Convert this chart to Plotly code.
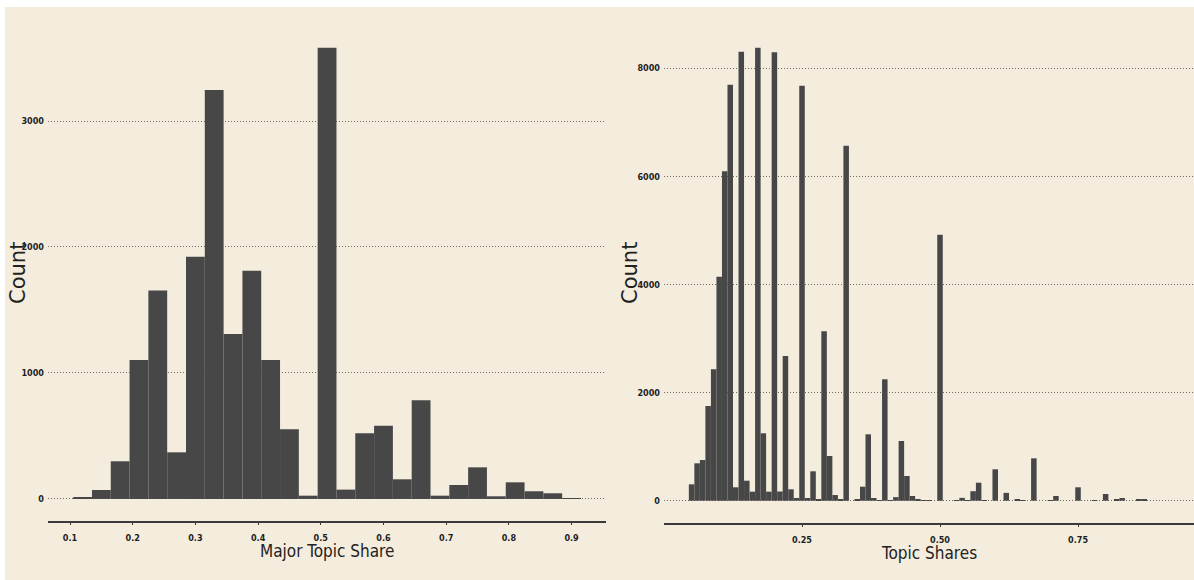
import plotly.graph_objects as go
import numpy as np

W, H = 1194, 580

# ---------------- data ----------------
# Left histogram: Major Topic Share, bin width 0.03, first bin centred at 0.12
major_bin_start = 0.12
major_bin_width = 0.03
major_counts = [13, 71, 299, 1103, 1655, 370, 1923, 3246, 1310, 1812, 1103, 553,
                26, 3582, 74, 521, 582, 156, 783, 26, 111, 251, 21, 132, 61, 45, 5]

# Right histogram: Topic Shares, bin width 0.01, first bin centred at 0.05
topic_bin_start = 0.05
topic_bin_width = 0.01
topic_counts = [303, 692, 753, 1752, 2431, 4144, 6094, 7696, 248, 8306,
                370, 167, 8380, 1247, 167, 8295, 170, 2677, 211, 50,
                7678, 50, 544, 30, 3134, 827, 105, 20, 6568, 0,
                20, 259, 1228, 50, 10, 2246, 10, 66, 1104, 457,
                87, 31, 13, 13, 0, 4920, 0, 0, 13, 53,
                5, 176, 333, 13, 0, 581, 0, 145, 0, 15,
                10, 0, 784, 0, 0, 10, 87, 0, 0, 0,
                248, 0, 0, 13, 0, 124, 0, 20, 50, 0,
                0, 15, 15]

left_xticks = [0.1, 0.2, 0.3, 0.4, 0.5, 0.6, 0.7, 0.8, 0.9]
left_xticklabels = ["0.1", "0.2", "0.3", "0.4", "0.5", "0.6", "0.7", "0.8", "0.9"]
left_yticks = [0, 1000, 2000, 3000]
right_xticks = [0.25, 0.50, 0.75]
right_xticklabels = ["0.25", "0.50", "0.75"]
right_yticks = [0, 2000, 4000, 6000, 8000]

left_xtitle = "Major Topic Share"
right_xtitle = "Topic Shares"
ytitle = "Count"

# ---------------- styling ----------------
BG = "#F4EDDE"
BAR = "#474747"
GRID = "#6f6a60"
AXIS = "#3a3a3a"
TICKFONT = dict(family="DejaVu Sans Condensed, DejaVu Sans, sans-serif", size=9, color="#1e1e1e", weight="bold")

major_x = np.round(major_bin_start + major_bin_width * np.arange(len(major_counts)), 4)
topic_x = np.round(topic_bin_start + topic_bin_width * np.arange(len(topic_counts)), 4)

fig = go.Figure()
fig.add_trace(go.Bar(x=major_x, y=major_counts, width=major_bin_width,
                     marker=dict(color=BAR, line=dict(width=0)),
                     xaxis="x", yaxis="y", showlegend=False))
fig.add_trace(go.Bar(x=topic_x, y=topic_counts, width=topic_bin_width,
                     marker=dict(color=BAR, line=dict(width=0)),
                     xaxis="x2", yaxis="y2", showlegend=False))

def px_x(p):
    return p / W

def px_y(p):
    return 1 - p / H

common_x = dict(showgrid=False, zeroline=False, showline=True, linecolor=AXIS, linewidth=2,
                ticks="outside", ticklen=2, tickcolor=AXIS, tickwidth=1,
                tickfont=TICKFONT, automargin=False, fixedrange=True)
common_y = dict(showgrid=True, gridcolor=GRID, gridwidth=1, griddash="1px,2px", zeroline=False,
                showline=False, ticks="", tickfont=TICKFONT, automargin=False,
                ticklabelstandoff=3, fixedrange=True)

fig.update_layout(
    width=W, height=H,
    margin=dict(l=0, r=0, t=0, b=0, pad=0),
    paper_bgcolor="white",
    plot_bgcolor="rgba(0,0,0,0)",
    barmode="overlay",
    xaxis=dict(domain=[px_x(48), px_x(606)], range=[0.0649, 0.9549], anchor="y",
               tickvals=left_xticks, ticktext=left_xticklabels, ticklabelstandoff=5, **common_x),
    yaxis=dict(domain=[px_y(521), px_y(25)], range=[-175, 3762], anchor="x",
               tickvals=left_yticks, **common_y),
    xaxis2=dict(domain=[px_x(664), 1.0], range=[0.0, 0.9601], anchor="y2",
                tickvals=right_xticks, ticktext=right_xticklabels, ticklabelstandoff=5, **common_x),
    yaxis2=dict(domain=[px_y(523.3), px_y(25)], range=[-418, 8800], anchor="x2",
                tickvals=right_yticks, **common_y),
    shapes=[dict(type="rect", xref="paper", yref="paper", x0=px_x(5), x1=1.0,
                 y0=0, y1=px_y(7), fillcolor=BG, line=dict(width=0), layer="below")],
    annotations=[
        dict(text=ytitle, xref="paper", yref="paper", x=px_x(18), y=px_y(273),
             textangle=-90, showarrow=False, xanchor="center", yanchor="middle",
             font=dict(family="DejaVu Sans, Verdana, sans-serif", size=21, color="#222222")),
        dict(text=ytitle, xref="paper", yref="paper", x=px_x(630), y=px_y(273),
             textangle=-90, showarrow=False, xanchor="center", yanchor="middle",
             font=dict(family="DejaVu Sans, Verdana, sans-serif", size=21, color="#222222")),
        dict(text=left_xtitle, xref="paper", yref="paper", x=px_x(327), y=px_y(551),
             showarrow=False, xanchor="center", yanchor="middle",
             font=dict(family="DejaVu Sans Condensed, DejaVu Sans, sans-serif", size=17, color="#222222")),
        dict(text=right_xtitle, xref="paper", yref="paper", x=px_x(929), y=px_y(553),
             showarrow=False, xanchor="center", yanchor="middle",
             font=dict(family="DejaVu Sans Condensed, DejaVu Sans, sans-serif", size=17, color="#222222")),
    ],
)

fig.write_html("out.html", config={"displayModeBar": False},
               post_script="document.body.style.margin='0px';document.body.style.overflow='hidden';")
